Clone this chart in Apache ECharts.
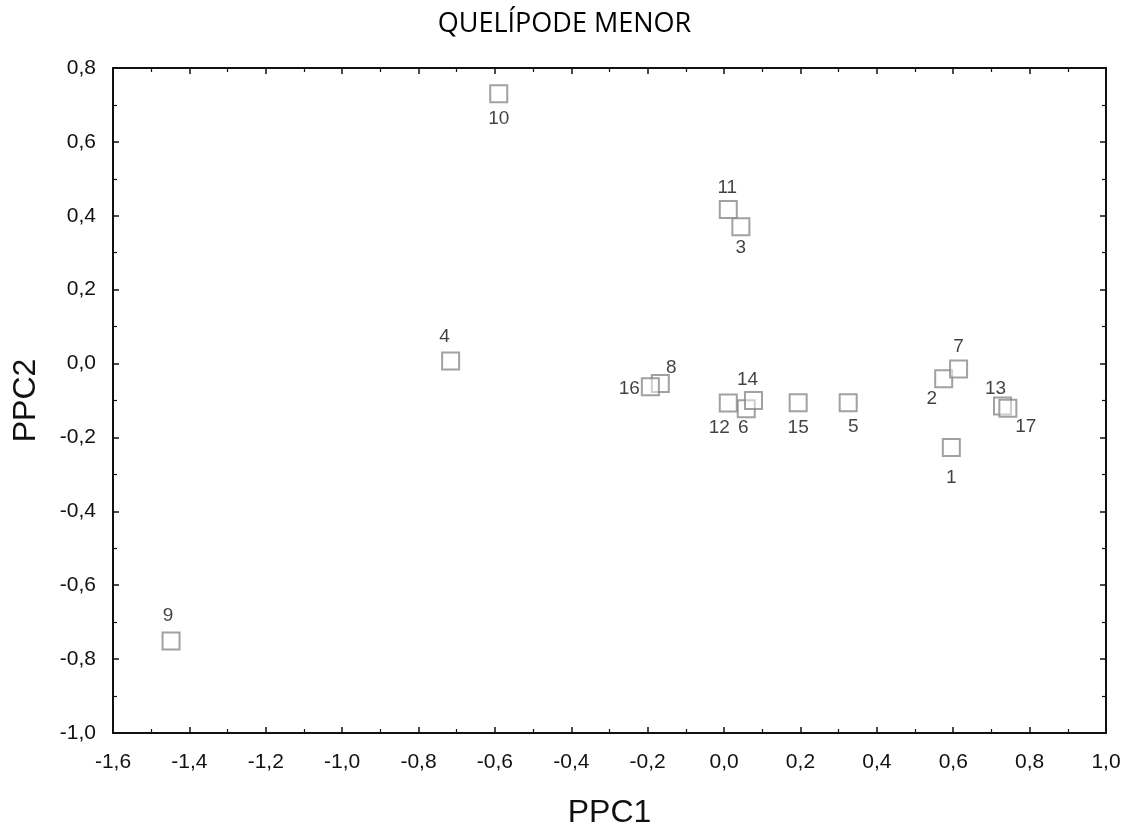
<!DOCTYPE html>
<html>
<head>
<meta charset="utf-8">
<script src="https://cdn.jsdelivr.net/npm/echarts@6/dist/echarts.min.js"></script>
<style>
  html, body { margin: 0; padding: 0; background: #fff; }
  #myChart { width: 1129px; height: 830px; }
</style>
</head>
<body>
<div id="myChart"></div>
<script>
// pontos (casos)
var pointIds = ['1','2','3','4','5','6','7','8','9','10','11','12','13','14','15','16','17'];
var ppc1 = [0.595, 0.575, 0.044, -0.716, 0.325, 0.058, 0.614, -0.167, -1.448, -0.590, 0.011, 0.011, 0.729, 0.077, 0.194, -0.193, 0.743];
var ppc2 = [-0.227, -0.041, 0.370, 0.007, -0.106, -0.122, -0.015, -0.054, -0.751, 0.730, 0.417, -0.107, -0.115, -0.100, -0.106, -0.063, -0.121];

// deslocamento dos rótulos (px) em relação ao centro do marcador
var labelOffsets = {
  '1': [0, 30], '2': [-12, 20], '3': [0, 21], '4': [-6, -24], '5': [5, 24],
  '6': [-3, 19], '7': [0, -22], '8': [11, -16], '9': [-3, -25], '10': [0, 25],
  '11': [-1, -22], '12': [-9, 25], '13': [-7, -17], '14': [-6, -21], '15': [0, 25],
  '16': [-21, 2], '17': [18, 19]
};

function fmt(v) {
  return v.toFixed(1).replace('.', ',');
}

var points = pointIds.map(function (id, i) {
  return {
    name: id,
    value: [ppc1[i], ppc2[i]],
    label: { offset: labelOffsets[id] }
  };
});

var axisCommon = {
  type: 'value',
  interval: 0.2,
  axisLine: { show: true, onZero: false, lineStyle: { color: '#111', width: 2 } },
  axisTick: { show: true, inside: true, length: 6, lineStyle: { color: '#111', width: 1.5 } },
  minorTick: { show: true, splitNumber: 2, length: 4, lineStyle: { color: '#111', width: 1.2 } },
  splitLine: { show: false }
};

var tickFont = { fontFamily: 'Liberation Sans', fontSize: 21, color: '#111' };

var myChart = echarts.init(document.getElementById('myChart'));
var option = {
  backgroundColor: '#fff',
  animation: false,
  title: {
    text: 'QUELÍPODE MENOR',
    left: 'center',
    top: 6,
    textStyle: { fontFamily: 'Open Sans', fontWeight: 'normal', fontSize: 27, color: '#000' }
  },
  grid: { left: 113, right: 23, top: 68, bottom: 97, containLabel: false, outerBoundsMode: 'none' },
  xAxis: [
    Object.assign({}, axisCommon, {
      min: -1.6, max: 1.0,
      position: 'bottom',
      name: 'PPC1',
      nameLocation: 'middle',
      nameGap: 64,
      nameTextStyle: { fontFamily: 'Liberation Sans', fontSize: 32, color: '#111' },
      axisLabel: Object.assign({ formatter: fmt, margin: 19 }, tickFont)
    }),
    Object.assign({}, axisCommon, {
      min: -1.6, max: 1.0,
      position: 'top',
      axisLabel: { show: false }
    })
  ],
  yAxis: [
    Object.assign({}, axisCommon, {
      min: -1.0, max: 0.8,
      position: 'left',
      name: 'PPC2',
      nameLocation: 'middle',
      nameGap: 71,
      nameRotate: 90,
      nameTextStyle: { fontFamily: 'Liberation Sans', fontSize: 32, color: '#111' },
      axisLabel: Object.assign({ formatter: fmt, margin: 17 }, tickFont)
    }),
    Object.assign({}, axisCommon, {
      min: -1.0, max: 0.8,
      position: 'right',
      axisLabel: { show: false }
    })
  ],
  series: [{
    type: 'scatter',
    symbol: 'rect',
    symbolSize: 17,
    itemStyle: { color: 'rgba(255,255,255,0.6)', borderColor: '#8a8a8a', borderWidth: 2 },
    label: {
      show: true,
      position: 'inside',
      formatter: '{b}',
      fontFamily: 'Liberation Sans',
      fontSize: 19,
      color: '#111',
      textBorderWidth: 0
    },
    data: points
  }]
};
myChart.setOption(option);
</script>
</body>
</html>
